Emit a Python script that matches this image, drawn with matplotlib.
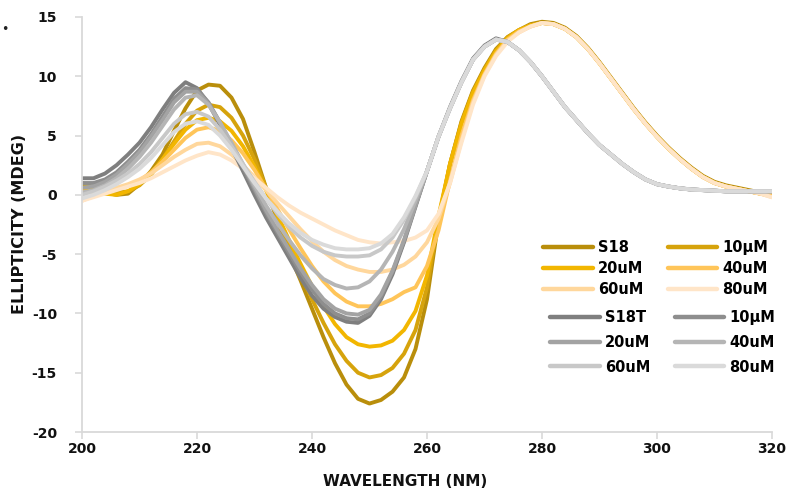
import matplotlib
matplotlib.use("Agg")
import matplotlib.pyplot as plt
import numpy as np
from matplotlib.lines import Line2D

plt.rcParams['font.family'] = ['DejaVu Sans']
plt.rcParams['axes.unicode_minus'] = False

# ---------------- data ----------------
wavelength = list(range(200, 321, 2))

s18 = [0.9, 0.6, 0.2, 0.0, 0.1, 0.9, 2.0, 3.4, 5.4, 7.3,
       8.8, 9.3, 9.2, 8.2, 6.4, 3.6, 0.6, -2.2, -4.9, -7.2,
       -9.6, -12.0, -14.2, -16.0, -17.2, -17.6, -17.3, -16.6, -15.4, -13.0,
       -8.8, -2.2, 2.6, 6.2, 8.8, 10.7, 12.3, 13.3, 13.9, 14.4,
       14.6, 14.5, 14.1, 13.4, 12.4, 11.2, 9.9, 8.6, 7.3, 6.1,
       5.0, 4.0, 3.1, 2.3, 1.6, 1.1, 0.8, 0.6, 0.4, 0.2, 0.0]
y10 = [1.0, 0.6, 0.3, 0.2, 0.3, 0.8, 1.7, 3.0, 4.5, 6.0,
       7.1, 7.6, 7.4, 6.5, 5.0, 3.0, 0.6, -1.9, -4.3, -6.6,
       -8.8, -10.8, -12.6, -14.0, -15.0, -15.4, -15.2, -14.6, -13.4, -11.4,
       -7.8, -2.0, 2.6, 6.1, 8.7, 10.6, 12.2, 13.3, 13.9, 14.3,
       14.5, 14.4, 14.0, 13.3, 12.3, 11.1, 9.8, 8.5, 7.2, 6.0,
       4.9, 3.9, 3.0, 2.2, 1.5, 1.0, 0.7, 0.5, 0.3, 0.1, 0.0]
y20 = [0.6, 0.3, 0.1, 0.0, 0.3, 0.9, 1.8, 3.0, 4.3, 5.5,
       6.3, 6.5, 6.2, 5.4, 4.1, 2.4, 0.4, -1.7, -3.8, -5.8,
       -7.7, -9.4, -10.9, -12.0, -12.6, -12.8, -12.7, -12.3, -11.4, -9.8,
       -6.8, -1.8, 2.6, 6.0, 8.6, 10.5, 12.1, 13.2, 13.9, 14.3,
       14.5, 14.4, 14.0, 13.3, 12.3, 11.1, 9.8, 8.5, 7.2, 6.0,
       4.9, 3.9, 3.0, 2.2, 1.5, 1.0, 0.7, 0.5, 0.3, 0.1, -0.1]
y40 = [0.3, 0.2, 0.3, 0.5, 0.8, 1.2, 1.9, 2.8, 3.8, 4.8,
       5.5, 5.7, 5.4, 4.6, 3.5, 2.1, 0.5, -1.2, -2.9, -4.5,
       -6.0, -7.3, -8.3, -9.0, -9.4, -9.4, -9.2, -8.8, -8.2, -7.8,
       -6.0, -3.0, 1.2, 5.0, 8.0, 10.2, 11.9, 13.1, 13.8, 14.2,
       14.5, 14.4, 14.0, 13.3, 12.3, 11.1, 9.8, 8.5, 7.2, 6.0,
       4.9, 3.9, 3.0, 2.2, 1.5, 1.0, 0.7, 0.5, 0.3, 0.1, -0.1]
y60 = [-0.5, -0.1, 0.3, 0.6, 0.9, 1.3, 1.8, 2.5, 3.2, 3.8,
       4.3, 4.4, 4.1, 3.4, 2.5, 1.5, 0.4, -0.7, -1.8, -2.9,
       -3.9, -4.8, -5.5, -6.0, -6.3, -6.5, -6.5, -6.3, -5.9, -5.2,
       -4.0, -2.0, 1.0, 4.6, 7.8, 10.1, 11.8, 13.0, 13.7, 14.2,
       14.5, 14.4, 14.0, 13.3, 12.3, 11.1, 9.8, 8.5, 7.2, 6.0,
       4.9, 3.9, 3.0, 2.2, 1.5, 1.0, 0.7, 0.5, 0.3, 0.1, -0.2]
y80 = [-0.5, -0.2, 0.1, 0.4, 0.7, 1.0, 1.4, 1.9, 2.4, 2.9,
       3.3, 3.6, 3.4, 2.9, 2.2, 1.4, 0.6, -0.2, -0.9, -1.5,
       -2.0, -2.5, -3.0, -3.4, -3.8, -4.0, -4.1, -4.0, -3.9, -3.6,
       -3.0, -1.6, 1.0, 4.4, 7.6, 10.0, 11.7, 12.9, 13.7, 14.2,
       14.5, 14.4, 14.0, 13.3, 12.3, 11.1, 9.8, 8.5, 7.2, 6.0,
       4.9, 3.9, 3.0, 2.2, 1.5, 1.0, 0.7, 0.5, 0.3, 0.1, -0.2]

s18t = [1.4, 1.4, 1.8, 2.5, 3.4, 4.4, 5.7, 7.2, 8.6, 9.5,
        9.0, 7.7, 5.9, 4.0, 2.0, 0.0, -1.9, -3.6, -5.3, -7.0,
        -8.5, -9.6, -10.3, -10.7, -10.8, -10.2, -8.8, -6.7, -4.0, -1.0,
        2.0, 4.9, 7.4, 9.6, 11.5, 12.6, 13.2, 12.9, 12.2, 11.2,
        10.0, 8.7, 7.4, 6.3, 5.2, 4.2, 3.4, 2.6, 1.9, 1.3,
        0.9, 0.7, 0.55, 0.45, 0.4, 0.35, 0.3, 0.3, 0.3, 0.3, 0.3]
g10 = [1.0, 1.0, 1.3, 1.9, 2.8, 3.8, 5.1, 6.6, 8.1, 9.0,
       8.9, 7.8, 6.1, 4.2, 2.3, 0.4, -1.5, -3.2, -4.9, -6.5,
       -8.0, -9.2, -10.0, -10.4, -10.5, -10.0, -8.6, -6.5, -3.9, -0.9,
       2.0, 4.9, 7.3, 9.5, 11.4, 12.5, 13.1, 12.9, 12.2, 11.2,
       10.0, 8.7, 7.4, 6.3, 5.2, 4.2, 3.4, 2.6, 1.9, 1.3,
       0.9, 0.7, 0.55, 0.45, 0.4, 0.35, 0.3, 0.3, 0.3, 0.3, 0.3]
g20 = [0.6, 0.7, 1.1, 1.7, 2.6, 3.6, 4.9, 6.3, 7.8, 8.7,
       8.7, 7.7, 6.1, 4.3, 2.5, 0.6, -1.3, -3.0, -4.6, -6.2,
       -7.6, -8.8, -9.6, -10.0, -10.1, -9.7, -8.4, -6.4, -3.8, -0.9,
       2.0, 4.9, 7.3, 9.5, 11.4, 12.5, 13.1, 12.9, 12.2, 11.2,
       10.0, 8.7, 7.4, 6.3, 5.2, 4.2, 3.4, 2.6, 1.9, 1.3,
       0.9, 0.7, 0.55, 0.45, 0.4, 0.35, 0.3, 0.3, 0.3, 0.3, 0.3]
g40 = [0.2, 0.4, 0.8, 1.4, 2.2, 3.2, 4.4, 5.8, 7.2, 8.2,
       8.4, 7.6, 6.1, 4.4, 2.6, 0.8, -0.9, -2.4, -3.8, -5.1,
       -6.2, -7.1, -7.6, -7.9, -7.8, -7.3, -6.3, -4.8, -2.9, -0.5,
       2.0, 4.9, 7.3, 9.5, 11.4, 12.5, 13.1, 12.9, 12.2, 11.2,
       10.0, 8.7, 7.4, 6.3, 5.2, 4.2, 3.4, 2.6, 1.9, 1.3,
       0.9, 0.7, 0.55, 0.45, 0.4, 0.35, 0.3, 0.3, 0.3, 0.3, 0.3]
g60 = [0.0, 0.3, 0.7, 1.2, 1.8, 2.6, 3.6, 4.8, 6.0, 6.8,
       7.0, 6.6, 5.5, 4.1, 2.6, 1.1, -0.3, -1.6, -2.7, -3.6,
       -4.3, -4.8, -5.1, -5.2, -5.2, -5.1, -4.6, -3.6, -2.1, -0.2,
       2.0, 4.9, 7.3, 9.5, 11.4, 12.5, 13.1, 12.9, 12.2, 11.2,
       10.0, 8.7, 7.4, 6.3, 5.2, 4.2, 3.4, 2.6, 1.9, 1.3,
       0.9, 0.7, 0.55, 0.45, 0.4, 0.35, 0.3, 0.3, 0.3, 0.3, 0.3]
g80 = [-0.3, 0.0, 0.4, 0.9, 1.5, 2.2, 3.1, 4.2, 5.3, 6.0,
       6.2, 5.9, 5.0, 3.8, 2.4, 1.0, -0.3, -1.4, -2.4, -3.2,
       -3.8, -4.2, -4.5, -4.6, -4.6, -4.5, -4.1, -3.3, -1.9, -0.1,
       2.0, 4.9, 7.3, 9.5, 11.4, 12.5, 13.1, 12.9, 12.2, 11.2,
       10.0, 8.7, 7.4, 6.3, 5.2, 4.2, 3.4, 2.6, 1.9, 1.3,
       0.9, 0.7, 0.55, 0.45, 0.4, 0.35, 0.3, 0.3, 0.3, 0.3, 0.3]

yellow_labels = ["S18", "10\u03bcM", "20uM", "40uM", "60uM", "80uM"]
gray_labels = ["S18T", "10\u03bcM", "20uM", "40uM", "60uM", "80uM"]
yellow_series = [s18, y10, y20, y40, y60, y80]
gray_series = [s18t, g10, g20, g40, g60, g80]
yellow_colors = ["#B98E0B", "#D6A30C", "#F2B600", "#FFC559", "#FFD79C", "#FFE5C8"]
gray_colors = ["#7F7F7F", "#8E8E8E", "#A3A3A3", "#B5B5B5", "#C8C8C8", "#DADADA"]

x_ticks = [200, 220, 240, 260, 280, 300, 320]
y_ticks = [-20, -15, -10, -5, 0, 5, 10, 15]

# ---------------- figure ----------------
fig = plt.figure(figsize=(8.02, 4.91), dpi=100)
ax = fig.add_axes([82 / 802, 1 - 432 / 491, (772 - 82) / 802, (432 - 17) / 491])

lw = 2.8
yh = []
for s, c, l in zip(yellow_series, yellow_colors, yellow_labels):
    h, = ax.plot(wavelength, s, color=c, lw=lw, label=l, solid_capstyle='round',
                 solid_joinstyle='round')
    yh.append(h)
gh = []
for s, c, l in zip(gray_series, gray_colors, gray_labels):
    h, = ax.plot(wavelength, s, color=c, lw=lw, label=l, solid_capstyle='round',
                 solid_joinstyle='round')
    gh.append(h)

ax.set_xlim(200, 320)
ax.set_ylim(-20, 15)
ax.set_xticks(x_ticks)
ax.set_yticks(y_ticks)
for side in ['top', 'right']:
    ax.spines[side].set_visible(False)
for side in ['left', 'bottom']:
    ax.spines[side].set_color('#D9D9D9')
    ax.spines[side].set_linewidth(1.3)
ax.tick_params(axis='y', length=5, width=1.2, color='#D9D9D9', pad=13,
               labelsize=10, labelcolor='#111111')
ax.tick_params(axis='x', length=5, width=1.2, color='#D9D9D9', pad=2,
               labelsize=10, labelcolor='#111111')
for t in ax.get_xticklabels() + ax.get_yticklabels():
    t.set_fontweight('bold')

fig.text(405 / 802, 1 - 481 / 491, "WAVELENGTH (NM)", ha='center', va='center',
         fontsize=11, fontweight='bold', color='#111111')
fig.text(20 / 802, 1 - 224 / 491, "ELLIPTICITY (MDEG)", ha='center', va='center',
         rotation=90, fontsize=11.5, fontweight='bold', color='#111111')
fig.text(1 / 802, 1 - 30 / 491, "\u2022", ha='left', va='center', fontsize=9,
         color='#222222')

# legends
order = [0, 2, 4, 1, 3, 5]
leg1 = ax.legend([yh[i] for i in order], [yellow_labels[i] for i in order], ncol=2,
                 loc='upper left', bbox_to_anchor=(543 / 802, 1 - 240 / 491),
                 bbox_transform=fig.transFigure, frameon=False, borderpad=0,
                 borderaxespad=0, handlelength=3.4, handletextpad=0.35,
                 columnspacing=1.7, labelspacing=0.42,
                 prop={'weight': 'bold', 'size': 10.5})
ax.add_artist(leg1)
leg2 = ax.legend([gh[i] for i in order], [gray_labels[i] for i in order], ncol=2,
                 loc='upper left', bbox_to_anchor=(550 / 802, 1 - 310 / 491),
                 bbox_transform=fig.transFigure, frameon=False, borderpad=0,
                 borderaxespad=0, handlelength=3.4, handletextpad=0.35,
                 columnspacing=1.7, labelspacing=0.67,
                 prop={'weight': 'bold', 'size': 10.5})
for leg in (leg1, leg2):
    for line in leg.get_lines():
        line.set_linewidth(3.2)

fig.savefig("out.png", dpi=100)
